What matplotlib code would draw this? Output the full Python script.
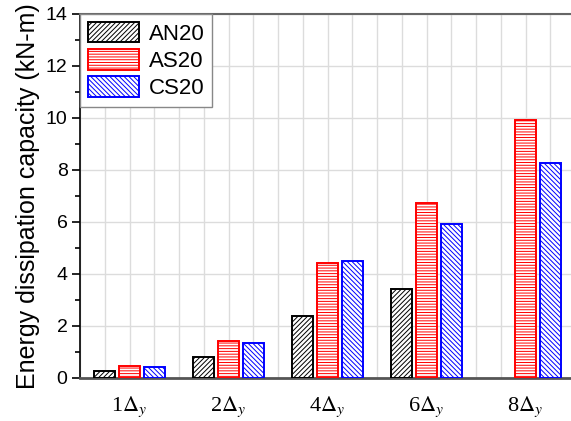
import numpy as np
import matplotlib.pyplot as plt
import matplotlib as mpl

mpl.rcParams['hatch.linewidth'] = 0.7
mpl.rcParams['mathtext.fontset'] = 'stix'

categories = [r'1$\Delta_y$', r'2$\Delta_y$', r'4$\Delta_y$', r'6$\Delta_y$', r'8$\Delta_y$']
an20 = [0.28, 0.82, 2.38, 3.41, 0.0]
as20 = [0.46, 1.44, 4.41, 6.72, 9.92]
cs20 = [0.44, 1.33, 4.51, 5.91, 8.28]

W, H = 571, 421
fig = plt.figure(figsize=(W / 100, H / 100), dpi=100)
ax = fig.add_axes([80 / W, 1 - 378 / H, 1 - 80 / W, (378 - 14) / H])

x = np.arange(1, len(categories) + 1)
w = 0.21
series = [(an20, 'AN20', 'black', '///////', -0.25),
          (as20, 'AS20', 'red', '------', 0.0),
          (cs20, 'CS20', 'blue', '\\\\\\\\\\\\\\', 0.25)]
for vals, name, col, hatch, off in series:
    v = np.array(vals)
    mask = v > 0
    ax.bar(x[mask] + off, v[mask], width=w, facecolor='white', edgecolor=col,
           hatch=hatch, linewidth=1.4, label=name, zorder=3)

ax.set_xlim(0.5, 0.5 + (W - 80) / 99)
ax.set_ylim(0, 14)
ax.set_yticks(np.arange(0, 15, 2))
ax.set_yticks(np.arange(1, 14, 2), minor=True)
ax.set_xticks(x)
ax.set_xticklabels(categories, fontsize=16, family='Liberation Serif')
ax.set_xticks(np.arange(0.5, 5.5, 0.25), minor=True)
ax.tick_params(axis='x', which='both', length=0, pad=12)
ax.tick_params(axis='y', which='major', direction='out', length=6, width=1.2,
               labelsize=14, pad=3)
ax.tick_params(axis='y', which='minor', direction='out', length=3.5, width=1.2)
for lab in ax.get_yticklabels():
    lab.set_family('Liberation Sans')

ax.grid(True, which='major', axis='y', color='#dcdcdc', linewidth=1, zorder=0)
ax.grid(True, which='both', axis='x', color='#dcdcdc', linewidth=1, zorder=0)
ax.set_axisbelow(True)

ax.spines['right'].set_visible(False)
ax.spines['top'].set_color('#666666')
ax.spines['top'].set_linewidth(1.5)
ax.spines['bottom'].set_color('#555555')
ax.spines['bottom'].set_linewidth(2)
ax.spines['left'].set_linewidth(1.2)

ax.set_ylabel('Energy dissipation capacity (kN-m)', fontsize=18,
              family='Liberation Sans', labelpad=4)

leg = ax.legend(loc='upper left', bbox_to_anchor=(0.0, 1.0),
                prop={'family': 'Liberation Sans', 'size': 16},
                fancybox=False, edgecolor='#888888', framealpha=1,
                handlelength=2.3, handleheight=1.05, handletextpad=0.45,
                borderaxespad=0.0, labelspacing=0.2, borderpad=0.35)
leg.get_frame().set_linewidth(1)

fig.savefig('out.png', dpi=100)
